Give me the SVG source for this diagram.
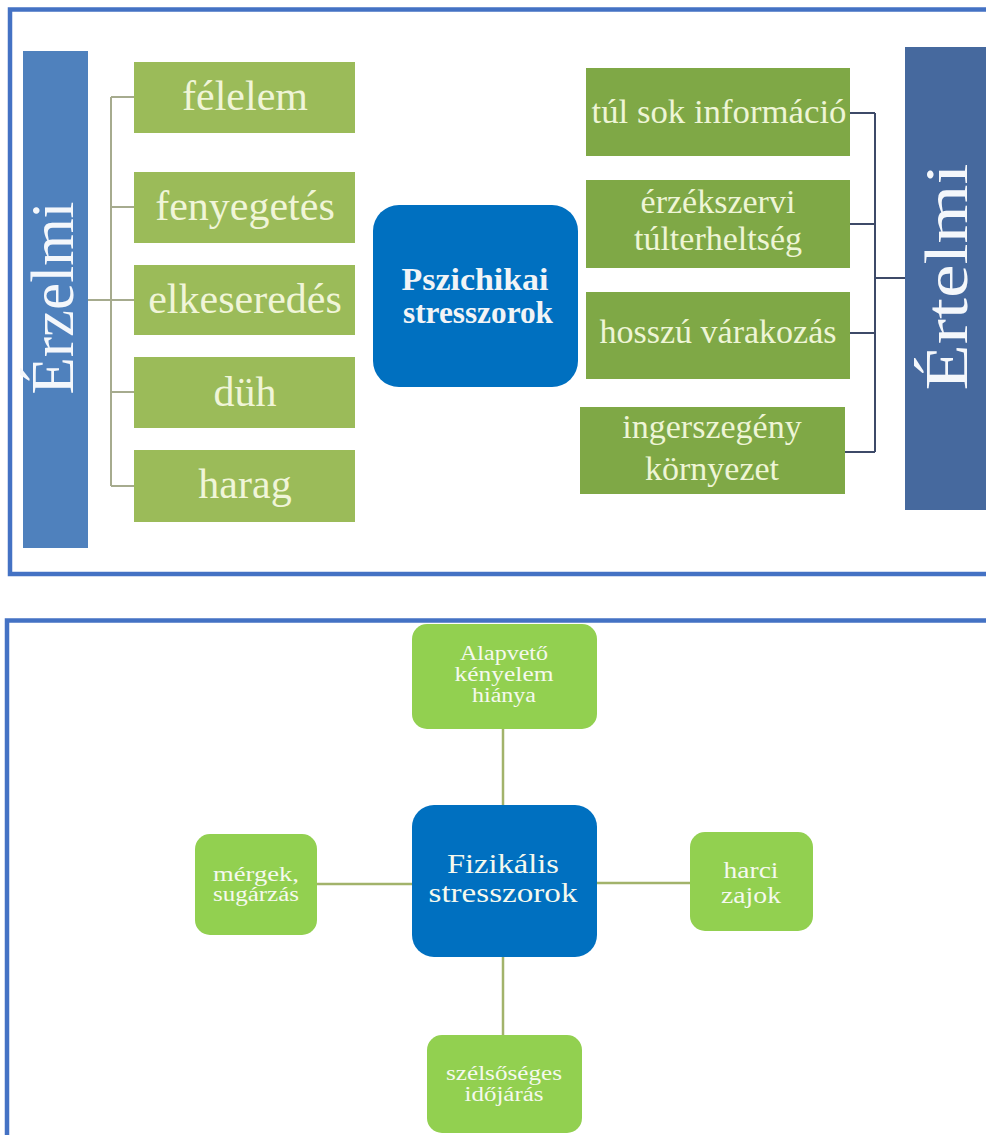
<svg xmlns="http://www.w3.org/2000/svg" width="986" height="1135" viewBox="0 0 986 1135">
<style>
.frame{fill:none;stroke:#4472c4;stroke-width:4.5}
.serif{font-family:"Liberation Serif","Times New Roman",serif}
.lg{fill:#9bbb59}
.rg{fill:#7fa846}
.lt{fill:#f0f5d8;font-size:42px;text-anchor:middle}
.rt{fill:#eef5d6;font-size:34px;text-anchor:middle}
.bar{fill:#f4f7fb;font-size:61px;text-anchor:middle}
.gb{fill:#92d050}
.bt{fill:#f5f9ee;text-anchor:middle}
.lc{fill:none;stroke:#a6ab8e;stroke-width:2}
.rc{fill:none;stroke:#3d4a68;stroke-width:2}
.bc{fill:none;stroke:#a2b36b;stroke-width:2.5}
</style>
<rect width="986" height="1135" fill="#ffffff"/>
<rect class="frame" x="10" y="9.5" width="1000" height="564.5"/>
<rect class="frame" x="7" y="620.5" width="1000" height="600"/>

<g id="connectors">
  <path class="lc" d="M88 300H111M111 97V486M111 97H134M111 207H134M111 300H134M111 392H134M111 486H134"/>
  <path class="rc" d="M850 113H875M850 224H875M850 333H875M845 452H875M875 113V452M875 278H905"/>
  <path class="bc" d="M503 729V805M503 957V1035M317 884H412M597 883H690"/>
</g>

<g id="erzelmi">
  <rect x="23" y="51" width="65" height="497" fill="#4f81bd"/>
  <text class="serif bar" transform="translate(73,298) rotate(-90)">Érzelmi</text>
</g>
<g id="felelem"><rect class="lg" x="134" y="62" width="221" height="71"/><text class="serif lt" x="245" y="110">félelem</text></g>
<g id="fenyegetes"><rect class="lg" x="134" y="172" width="221" height="71"/><text class="serif lt" x="245" y="220">fenyegetés</text></g>
<g id="elkeseredes"><rect class="lg" x="134" y="265" width="221" height="70"/><text class="serif lt" x="245" y="313">elkeseredés</text></g>
<g id="duh"><rect class="lg" x="134" y="357" width="221" height="71"/><text class="serif lt" x="245" y="406">düh</text></g>
<g id="harag"><rect class="lg" x="134" y="450" width="221" height="72"/><text class="serif lt" x="245" y="498">harag</text></g>

<g id="pszichikai">
  <rect x="373" y="205" width="205" height="182" rx="26" fill="#0070c0"/>
  <text class="serif" x="475" y="290" fill="#f2f4f6" font-size="31" font-weight="bold" text-anchor="middle" textLength="147" lengthAdjust="spacingAndGlyphs">Pszichikai</text>
  <text class="serif" x="478" y="323" fill="#f2f4f6" font-size="31" font-weight="bold" text-anchor="middle" textLength="150" lengthAdjust="spacingAndGlyphs">stresszorok</text>
</g>

<g id="tul-sok"><rect class="rg" x="586" y="68" width="264" height="88"/><text class="serif rt" x="719" y="123" textLength="255" lengthAdjust="spacingAndGlyphs">túl sok információ</text></g>
<g id="erzekszervi"><rect class="rg" x="586" y="180" width="264" height="88"/><text class="serif rt" x="718" y="213">érzékszervi</text><text class="serif rt" x="718" y="250">túlterheltség</text></g>
<g id="hosszu"><rect class="rg" x="586" y="292" width="264" height="87"/><text class="serif rt" x="718" y="343">hosszú várakozás</text></g>
<g id="ingerszegeny"><rect class="rg" x="580" y="407" width="265" height="87"/><text class="serif rt" x="712" y="438">ingerszegény</text><text class="serif rt" x="712" y="480">környezet</text></g>

<g id="ertelmi">
  <rect x="905" y="47" width="90" height="463" fill="#46699e"/>
  <text class="serif bar" transform="translate(967,277) rotate(-90)" textLength="227" lengthAdjust="spacingAndGlyphs">Értelmi</text>
</g>

<g id="alapveto">
  <rect class="gb" x="412" y="624" width="185" height="105" rx="15"/>
  <text class="serif bt" font-size="20" x="504" y="660" textLength="88" lengthAdjust="spacingAndGlyphs">Alapvető</text>
  <text class="serif bt" font-size="20" x="504" y="681" textLength="99" lengthAdjust="spacingAndGlyphs">kényelem</text>
  <text class="serif bt" font-size="20" x="504" y="702" textLength="64" lengthAdjust="spacingAndGlyphs">hiánya</text>
</g>
<g id="fizikalis">
  <rect x="412" y="805" width="185" height="152" rx="22" fill="#0070c0"/>
  <text class="serif bt" font-size="28" x="503" y="873" fill="#f5f8fb" textLength="112" lengthAdjust="spacingAndGlyphs">Fizikális</text>
  <text class="serif bt" font-size="28" x="503" y="902" fill="#f5f8fb" textLength="149" lengthAdjust="spacingAndGlyphs">stresszorok</text>
</g>
<g id="mergek">
  <rect class="gb" x="195" y="834" width="122" height="101" rx="15"/>
  <text class="serif bt" font-size="20" x="256" y="881" textLength="86" lengthAdjust="spacingAndGlyphs">mérgek,</text>
  <text class="serif bt" font-size="20" x="256" y="901" textLength="86" lengthAdjust="spacingAndGlyphs">sugárzás</text>
</g>
<g id="harci">
  <rect class="gb" x="690" y="832" width="123" height="99" rx="15"/>
  <text class="serif bt" font-size="23" x="751" y="878" textLength="55" lengthAdjust="spacingAndGlyphs">harci</text>
  <text class="serif bt" font-size="23" x="751" y="903" textLength="60" lengthAdjust="spacingAndGlyphs">zajok</text>
</g>
<g id="szelsoseges">
  <rect class="gb" x="427" y="1035" width="155" height="98" rx="15"/>
  <text class="serif bt" font-size="20" x="504" y="1080" textLength="116" lengthAdjust="spacingAndGlyphs">szélsőséges</text>
  <text class="serif bt" font-size="20" x="504" y="1101" textLength="79" lengthAdjust="spacingAndGlyphs">időjárás</text>
</g>
</svg>
